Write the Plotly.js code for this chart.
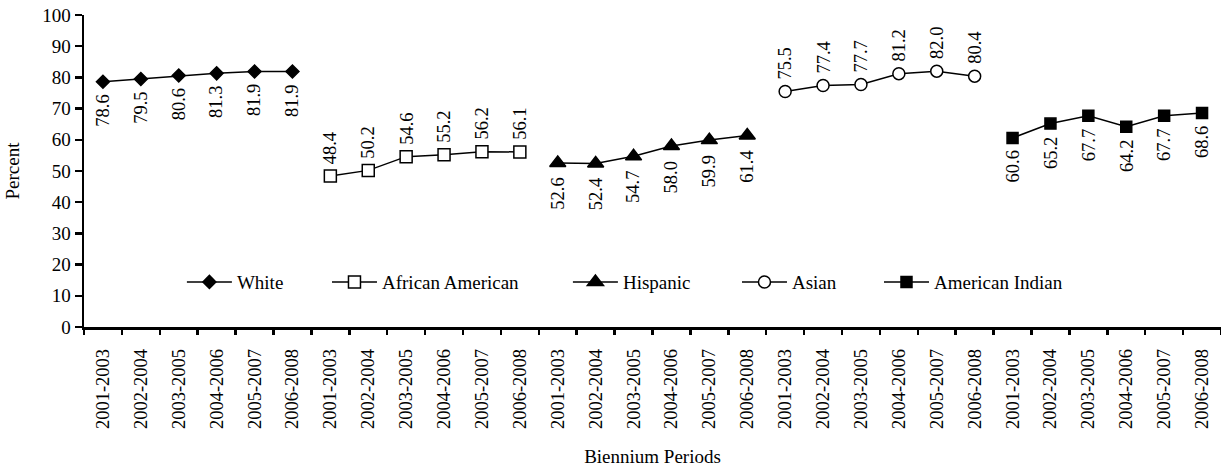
<!DOCTYPE html>
<html>
<head>
<meta charset="utf-8">
<script src="https://cdn.plot.ly/plotly-3.0.1.min.js"></script>
<style>html,body{margin:0;padding:0;background:#fff;}#chart{width:1221px;height:471px;}</style>
</head>
<body>
<div id="chart"></div>
<script>
const periods = ["2001-2003","2002-2004","2003-2005","2004-2006","2005-2007","2006-2008"];
const groupNames = ["White","African American","Hispanic","Asian","American Indian"];
const white = [78.6,79.5,80.6,81.3,81.9,81.9];
const africanAmerican = [48.4,50.2,54.6,55.2,56.2,56.1];
const hispanic = [52.6,52.4,54.7,58.0,59.9,61.4];
const asian = [75.5,77.4,77.7,81.2,82.0,80.4];
const americanIndian = [60.6,65.2,67.7,64.2,67.7,68.6];
const seriesValues = [white, africanAmerican, hispanic, asian, americanIndian];

const symbols = ["diamond","square","triangle-up","circle","square"];
const fills = ["#000","#fff","#000","#fff","#000"];
const sizes = [10,12,14,12,11];
const labelAbove = [false,true,false,true,false];
const legendX = [0.0861,0.2137,0.4256,0.5743,0.6992];
const FONT = "Liberation Serif";

const traces = [];
const annotations = [];
seriesValues.forEach((vals, g) => {
  const xs = vals.map((v, i) => g * periods.length + i);
  traces.push({
    x: xs, y: vals, type: "scatter", mode: "lines+markers",
    name: groupNames[g],
    legend: g === 0 ? "legend" : "legend" + (g + 1),
    line: {color: "#000", width: 1.5},
    marker: {symbol: symbols[g], size: sizes[g], color: fills[g],
             line: {color: "#000", width: 1.5}},
    hoverinfo: "skip"
  });
  vals.forEach((v, i) => {
    annotations.push({
      x: xs[i], y: v, xref: "x", yref: "y",
      text: v.toFixed(1), showarrow: false, textangle: -90,
      xanchor: "center", yanchor: labelAbove[g] ? "bottom" : "top",
      yshift: labelAbove[g] ? 10 : (g === 2 ? -13 : -11),
      font: {family: FONT, size: 18.5, color: "#000"}
    });
  });
});

const nCats = periods.length * groupNames.length;
const centers = [], tickText = [], bounds = [];
for (let k = 0; k < nCats; k++) { centers.push(k); tickText.push(periods[k % periods.length]); }
for (let k = 0; k <= nCats; k++) bounds.push(k - 0.5);

traces.push({x: [0], y: [0], xaxis: "x2", yaxis: "y", mode: "markers",
  marker: {opacity: 0}, showlegend: false, hoverinfo: "skip"});

const layout = {
  width: 1221, height: 471,
  margin: {l: 84, r: 0, t: 15, b: 144},
  paper_bgcolor: "#fff", plot_bgcolor: "#fff",
  font: {family: FONT, color: "#000", size: 19},
  showlegend: true,
  xaxis: {
    range: [-0.5, nCats - 0.5], tickmode: "array", tickvals: centers, ticktext: tickText,
    tickangle: -90, ticks: "", showgrid: false, zeroline: false,
    showline: true, linecolor: "#000", linewidth: 2.5,
    tickfont: {family: FONT, size: 18.5, color: "#000"},
    ticklabelstandoff: 12,
    title: {text: "Biennium Periods", font: {family: FONT, size: 19, color: "#000"}, standoff: 22}
  },
  xaxis2: {
    overlaying: "x", range: [-0.5, nCats - 0.5], tickmode: "array", tickvals: bounds,
    ticks: "outside", ticklen: 7, tickwidth: 2.5, tickcolor: "#000",
    showticklabels: false, showgrid: false, zeroline: false, showline: false, side: "bottom"
  },
  yaxis: {
    range: [0, 100], tickmode: "linear", tick0: 0, dtick: 10,
    ticks: "outside", ticklen: 7, tickwidth: 2.5, tickcolor: "#000",
    showgrid: false, zeroline: false, showline: true, linecolor: "#000", linewidth: 2.5,
    tickfont: {family: FONT, size: 19, color: "#000"},
    title: {text: "Percent", font: {family: FONT, size: 19, color: "#000"}, standoff: 18}
  },
  annotations: annotations
};
groupNames.forEach((n, g) => {
  const key = g === 0 ? "legend" : "legend" + (g + 1);
  layout[key] = {
    x: legendX[g], xanchor: "left", y: 0.144, yanchor: "middle",
    orientation: "h", bgcolor: "rgba(0,0,0,0)", borderwidth: 0,
    itemwidth: 45, font: {family: FONT, size: 19, color: "#000"}
  };
});

Plotly.newPlot("chart", traces, layout, {displayModeBar: false, staticPlot: true});
</script>
</body>
</html>
